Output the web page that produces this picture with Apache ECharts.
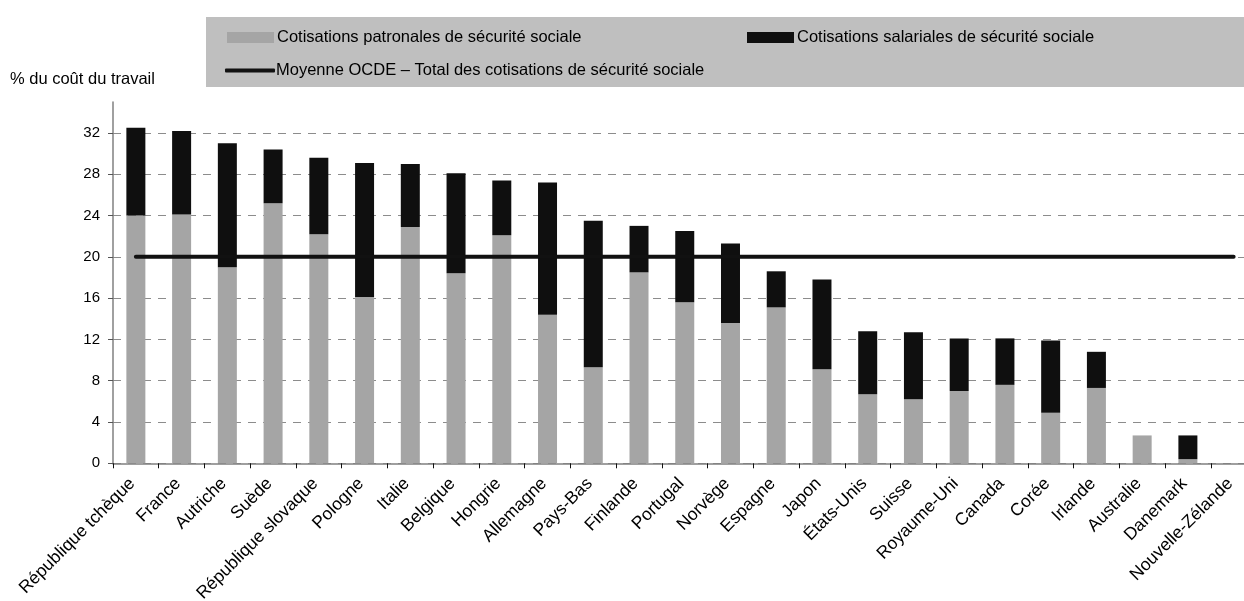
<!DOCTYPE html>
<html>
<head>
<meta charset="utf-8">
<script src="https://cdn.jsdelivr.net/npm/echarts@6/dist/echarts.min.js"></script>
<style>
  html, body { margin: 0; padding: 0; background: #ffffff; overflow: hidden; }
  #chart { width: 1244px; height: 601px; }
</style>
</head>
<body>
<div id="chart"></div>
<script>
// ---- Data ----
const countries = [
  'République tchèque', 'France', 'Autriche', 'Suède', 'République slovaque',
  'Pologne', 'Italie', 'Belgique', 'Hongrie', 'Allemagne', 'Pays-Bas',
  'Finlande', 'Portugal', 'Norvège', 'Espagne', 'Japon', 'États-Unis',
  'Suisse', 'Royaume-Uni', 'Canada', 'Corée', 'Irlande', 'Australie',
  'Danemark', 'Nouvelle-Zélande'
];
// Employer social security contributions (% of labour cost)
const employerContrib = [
  24.0, 24.1, 19.0, 25.2, 22.2, 16.1, 22.9, 18.4, 22.1, 14.4, 9.3,
  18.5, 15.6, 13.6, 15.1, 9.1, 6.7, 6.2, 7.0, 7.6, 4.9, 7.3, 2.7, 0.4, 0
];
// Employee social security contributions (% of labour cost)
const employeeContrib = [
  8.5, 8.1, 12.0, 5.2, 7.4, 13.0, 6.1, 9.7, 5.3, 12.8, 14.2,
  4.5, 6.9, 7.7, 3.5, 8.7, 6.1, 6.5, 5.1, 4.5, 7.0, 3.5, 0, 2.3, 0
];
// OECD average, total social security contributions
const oecdAverage = 20;
const yTicks = [0, 4, 8, 12, 16, 20, 24, 28, 32];

const seriesNames = [
  'Cotisations patronales de sécurité sociale',
  'Cotisations salariales de sécurité sociale',
  'Moyenne OCDE – Total des cotisations de sécurité sociale'
];
const yAxisTitle = '% du coût du travail';

const averageLine = countries.map(() => oecdAverage);

const FONT = '"Liberation Sans", Arial, sans-serif';
const chart = echarts.init(document.getElementById('chart'), null, { renderer: 'canvas' });

const legendText = { fontFamily: FONT, fontSize: 16.5, color: '#000', padding: [0, 0, 0, -2] };

chart.setOption({
  animation: false,
  backgroundColor: '#ffffff',
  textStyle: { fontFamily: FONT, color: '#000' },
  title: {
    text: yAxisTitle,
    left: 10, top: 71, padding: 0,
    textStyle: { fontFamily: FONT, fontSize: 16.5, fontWeight: 'normal', color: '#000' }
  },
  graphic: [{
    type: 'rect',
    z: 0,
    shape: { x: 206, y: 17, width: 1060, height: 70 },
    style: { fill: '#BFBFBF' }
  }],
  legend: [
    {
      data: [{ name: seriesNames[0], icon: 'rect' }],
      left: 227, top: 29, padding: 0, itemWidth: 47, itemHeight: 11, itemGap: 0,
      textStyle: legendText, z: 10, selectedMode: false
    },
    {
      data: [{ name: seriesNames[1], icon: 'rect' }],
      left: 747, top: 29, padding: 0, itemWidth: 47, itemHeight: 11, itemGap: 0,
      textStyle: legendText, z: 10, selectedMode: false
    },
    {
      data: [{ name: seriesNames[2], icon: 'roundRect' }],
      left: 225, top: 62, padding: 0, itemWidth: 50, itemHeight: 4, itemGap: 0,
      textStyle: Object.assign({}, legendText, { padding: [0, 0, 0, -4] }),
      z: 10, selectedMode: false
    }
  ],
  grid: {
    left: 113, width: 1143.5, top: 102, height: 361.3,
    containLabel: false, outerBoundsMode: 'none'
  },
  xAxis: {
    type: 'category',
    data: countries,
    boundaryGap: true,
    axisLine: { show: true, lineStyle: { color: '#808080', width: 1.5 } },
    axisTick: { show: true, alignWithLabel: false, length: 5, lineStyle: { color: '#111', width: 1 } },
    axisLabel: {
      interval: 0, rotate: 45, margin: 14,
      padding: [0, 5, 0, 0],
      fontFamily: FONT, fontSize: 17.5, color: '#000'
    },
    splitLine: { show: false }
  },
  yAxis: {
    type: 'value',
    min: 0, max: 35, interval: 4,
    axisLine: { show: true, lineStyle: { color: '#808080', width: 1.5 } },
    axisTick: { show: true, inside: false, length: 5, lineStyle: { color: '#555' }, customValues: yTicks },
    axisLabel: {
      fontFamily: FONT, fontSize: 15, color: '#000', margin: 13,
      customValues: yTicks
    },
    splitLine: {
      show: true,
      lineStyle: { color: '#8C8C8C', width: 1, type: [8, 7] }
    }
  },
  series: [
    {
      name: seriesNames[0], type: 'bar', stack: 'total',
      data: employerContrib, barWidth: 19,
      itemStyle: { color: '#A5A5A5' }, z: 2
    },
    {
      name: seriesNames[1], type: 'bar', stack: 'total',
      data: employeeContrib, barWidth: 19,
      itemStyle: { color: '#0F0F0F' }, z: 2
    },
    {
      name: seriesNames[2], type: 'line',
      data: averageLine,
      symbol: 'none', showSymbol: false,
      lineStyle: { color: '#111111', width: 4, cap: 'round' },
      itemStyle: { color: '#111111' },
      z: 5
    }
  ]
});
</script>
</body>
</html>
